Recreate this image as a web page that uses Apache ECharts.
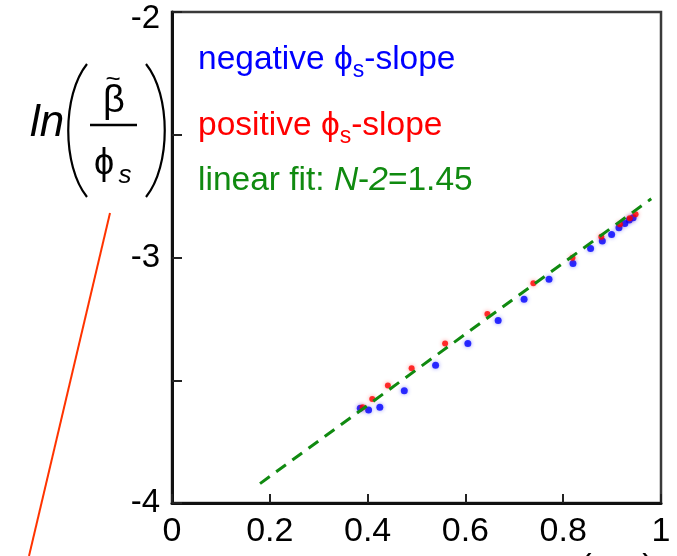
<!DOCTYPE html>
<html>
<head>
<meta charset="utf-8">
<script src="https://cdn.jsdelivr.net/npm/echarts@6/dist/echarts.min.js"></script>
<style>
  html, body { margin: 0; padding: 0; background: #fff; }
  #chart { width: 677px; height: 556px; }
</style>
</head>
<body>
<div id="chart"></div>
<script>
// ln(beta~/phi_s) against the normalised abscissa, split by sign of the phi_s slope
const negX = [0.385, 0.402, 0.425, 0.475, 0.539, 0.605, 0.667, 0.720, 0.771, 0.820, 0.856, 0.880, 0.899, 0.914, 0.926, 0.935, 0.943];
const negY = [-3.614, -3.621, -3.610, -3.543, -3.439, -3.350, -3.257, -3.170, -3.089, -3.024, -2.963, -2.933, -2.906, -2.879, -2.861, -2.847, -2.838];
const posX = [0.390, 0.4095, 0.4415, 0.490, 0.5585, 0.645, 0.739, 0.819, 0.878, 0.916, 0.936, 0.948];
const posY = [-3.610, -3.576, -3.521, -3.451, -3.350, -3.230, -3.105, -3.001, -2.915, -2.865, -2.840, -2.824];

// linear fit, slope N-2 = 1.45
const fitSlope = 1.45;
const fitIntercept = -4.182;
const fitRange = [0.18, 0.98];

const xTicks = [0, 0.2, 0.4, 0.6, 0.8, 1];
const yTicks = [-4, -3.5, -3, -2.5, -2];

const FONT = "'Liberation Sans', Arial, sans-serif";
const PHI = 'ϕ';

const pair = (xs, ys) => xs.map((x, i) => [x, ys[i]]);
const fitData = fitRange.map(x => [x, fitIntercept + fitSlope * x]);

// measuring helper for composing runs of text with subscripts
const mctx = document.createElement('canvas').getContext('2d');
function fontStr(p) {
  return (p.italic ? 'italic ' : '') + p.size + 'px ' + FONT;
}
function textRun(x0, baseline, parts, color) {
  const out = [];
  let x = x0;
  parts.forEach(p => {
    const b = baseline + (p.dy || 0);
    out.push({
      type: 'text',
      x: x,
      y: b - 0.35 * p.size,
      z: 100,
      style: {
        text: p.text,
        fill: color,
        font: fontStr(p),
        fontSize: p.size,
        fontFamily: FONT,
        fontStyle: p.italic ? 'italic' : 'normal',
        align: 'left', textAlign: 'left',
        verticalAlign: 'middle', textVerticalAlign: 'middle'
      }
    });
    mctx.font = fontStr(p);
    x += mctx.measureText(p.text).width + (p.gap || 0);
  });
  return out;
}
function centered(cx, baseline, text, size, italic) {
  return {
    type: 'text', x: cx, y: baseline - 0.35 * size, z: 100,
    style: {
      text: text, fill: '#000', font: (italic ? 'italic ' : '') + size + 'px ' + FONT,
      fontSize: size, fontFamily: FONT, fontStyle: italic ? 'italic' : 'normal',
      align: 'center', textAlign: 'center',
      verticalAlign: 'middle', textVerticalAlign: 'middle'
    }
  };
}

const LEG = 33.5, SUB = 23;
const graphics = [].concat(
  textRun(198, 71, [
    { text: 'negative ', size: LEG },
    { text: PHI, size: LEG },
    { text: 's', size: SUB, dy: 8 },
    { text: '-slope', size: LEG }
  ], '#0000ff'),
  textRun(198, 137, [
    { text: 'positive ', size: LEG },
    { text: PHI, size: LEG },
    { text: 's', size: SUB, dy: 8 },
    { text: '-slope', size: LEG }
  ], '#ff0000'),
  textRun(198, 192, [
    { text: 'linear fit: ', size: LEG },
    { text: 'N', size: LEG, italic: true },
    { text: '-', size: LEG },
    { text: '2', size: LEG, italic: true },
    { text: '=1.45', size: LEG }
  ], '#108a10'),
  // axis title ln( beta~ / phi_s )
  textRun(30, 139, [{ text: 'ln', size: 44, italic: true }], '#000'),
  [
    centered(113, 89, '~', 26, false),
    centered(114, 115, 'β', 38, false),
    centered(104, 177, PHI, 36, false),
    centered(125, 185, 's', 26, true),
    {
      type: 'line', z: 100,
      shape: { x1: 90, y1: 125, x2: 137, y2: 125 },
      style: { stroke: '#000', lineWidth: 2.5 }
    },
    {
      type: 'bezierCurve', z: 100,
      shape: { x1: 87, y1: 64, cpx1: 62, cpy1: 95, cpx2: 62, cpy2: 166, x2: 87, y2: 197 },
      style: { stroke: '#000', lineWidth: 2.2, fill: null }
    },
    {
      type: 'bezierCurve', z: 100,
      shape: { x1: 146, y1: 64, cpx1: 171, cpy1: 95, cpx2: 171, cpy2: 166, x2: 146, y2: 197 },
      style: { stroke: '#000', lineWidth: 2.2, fill: null }
    },
    {
      type: 'line', z: 100,
      shape: { x1: 110, y1: 213, x2: 29, y2: 556 },
      style: { stroke: '#ff3300', lineWidth: 2 }
    },
    {
      type: 'text', x: 586, y: 551, z: 100,
      style: { text: '(', fill: '#000', font: '34px ' + FONT, align: 'center', textAlign: 'center', verticalAlign: 'top', textVerticalAlign: 'top' }
    },
    {
      type: 'text', x: 648, y: 551, z: 100,
      style: { text: ')', fill: '#000', font: '34px ' + FONT, align: 'center', textAlign: 'center', verticalAlign: 'top', textVerticalAlign: 'top' }
    }
  ]
);

const chart = echarts.init(document.getElementById('chart'), null, { renderer: 'canvas' });
chart.setOption({
  animation: false,
  backgroundColor: '#fff',
  grid: {
    left: 172, right: 16, top: 12, bottom: 53,
    show: true, borderColor: '#3a3a3a', borderWidth: 2.5, backgroundColor: 'transparent'
  },
  xAxis: {
    type: 'value', min: xTicks[0], max: xTicks[xTicks.length - 1], interval: 0.2,
    axisLine: { show: true, onZero: false, lineStyle: { color: '#111', width: 3 } },
    axisTick: { show: true, inside: true, length: 9, lineStyle: { color: '#222', width: 2 } },
    splitLine: { show: false },
    axisLabel: {
      margin: 12, color: '#000', fontSize: 34, fontFamily: FONT,
      formatter: v => String(Math.round(v * 10) / 10)
    }
  },
  yAxis: {
    type: 'value', min: yTicks[0], max: yTicks[yTicks.length - 1], interval: 0.5,
    axisLine: { show: true, onZero: false, lineStyle: { color: '#111', width: 3 } },
    axisTick: { show: true, inside: true, length: 10, lineStyle: { color: '#222', width: 2 } },
    splitLine: { show: false },
    axisLabel: {
      margin: 12, color: '#000', fontSize: 33, fontFamily: FONT,
      formatter: v => {
        if (Math.abs(v - Math.round(v)) > 1e-6) return '';
        return v === yTicks[yTicks.length - 1] ? '{top|' + v + '}' : String(v);
      },
      rich: { top: { fontSize: 33, fontFamily: FONT, color: '#000', padding: [14, 0, 0, 0] } }
    }
  },
  graphic: graphics,
  series: [
    {
      name: 'negative', type: 'scatter', data: pair(negX, negY),
      symbol: 'circle', symbolSize: 7, z: 3,
      itemStyle: { color: '#0000ff', shadowBlur: 4, shadowColor: 'rgba(0,0,255,0.5)' }
    },
    {
      name: 'positive', type: 'scatter', data: pair(posX, posY),
      symbol: 'circle', symbolSize: 6, z: 4,
      itemStyle: { color: '#ff0000', shadowBlur: 4, shadowColor: 'rgba(255,0,0,0.5)' }
    },
    {
      name: 'fit', type: 'line', data: fitData, showSymbol: false, symbol: 'none', z: 5,
      lineStyle: { color: '#108a10', width: 3, type: [12, 8] }
    }
  ]
});
</script>
</body>
</html>
